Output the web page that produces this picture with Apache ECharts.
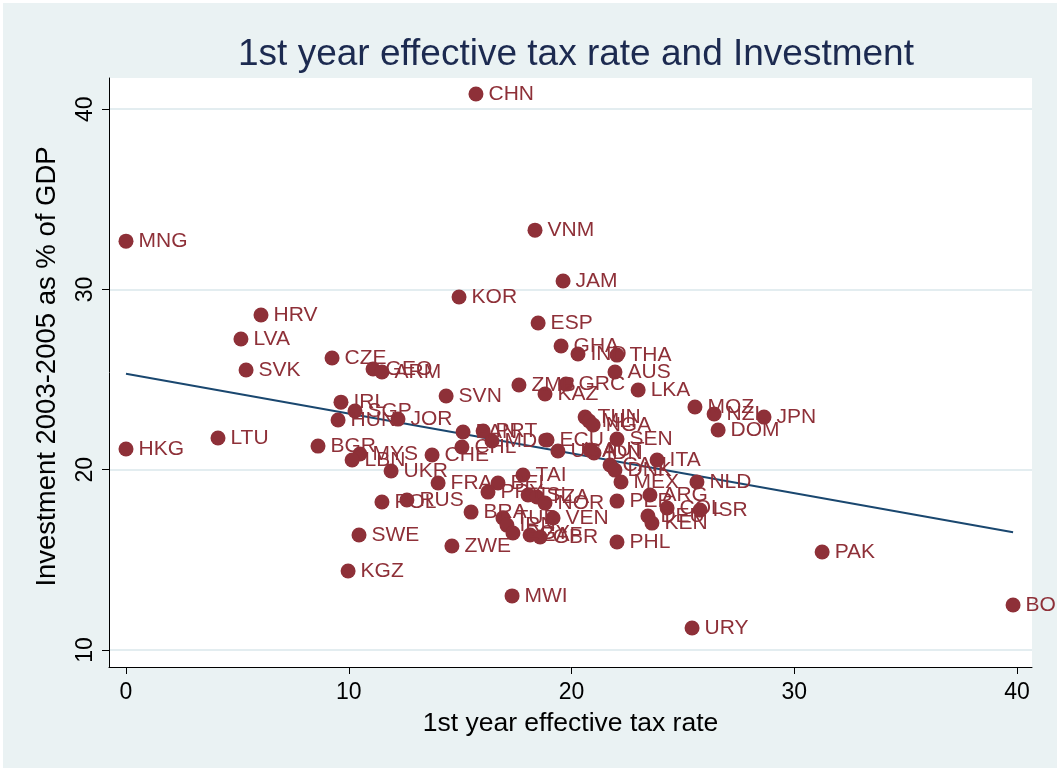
<!DOCTYPE html>
<html>
<head>
<meta charset="utf-8">
<script src="https://cdn.jsdelivr.net/npm/echarts@6/dist/echarts.min.js"></script>
<style>
html,body{margin:0;padding:0;background:#fff;}
#chart{width:1060px;height:771px;}
</style>
</head>
<body>
<div id="chart"></div>
<script>
// ---- data ----
const countries = ["CHN","MNG","VNM","JAM","KOR","HRV","ESP","LVA","GHA","IND","THA","CZE","SVK","GEO","ARM","AUS","ZMB","GRC","KAZ","LKA","SVN","MOZ","IRL","SGP","NZL","JPN","HUN","JOR","TUN","MLI","NGA","DOM","PAN","PRT","SEN","MDG","ECU","HKG","LTU","BGR","CHL","CHE","UGA","AUT","IDN","MYS","LBN","ITA","CAN","DNK","UKR","TAI","MEX","NLD","FRA","BEL","PRY","ISL","TZA","ARG","NOR","POL","RUS","PER","COL","ISR","BRA","VEN","TUR","IRN","EGY","ZAF","GBR","DEU","KEN","PHL","SWE","KGZ","ZWE","MWI","URY","PAK","BOL"];
const taxRate = [15.71,0,18.36,19.62,14.95,6.06,18.50,5.16,19.53,20.29,22.04,9.25,5.39,11.09,11.49,21.95,17.64,19.75,18.81,22.99,14.37,25.54,9.65,10.28,26.40,28.64,9.52,12.21,20.61,20.79,20.97,26.58,15.13,16.03,22.04,16.43,18.90,0,4.13,8.62,15.08,13.74,19.39,20.83,21.01,10.50,10.15,23.84,21.73,21.95,11.90,17.82,22.22,25.63,14.01,16.70,16.25,18.05,18.45,23.52,18.81,11.49,12.61,22.04,24.29,25.77,15.49,19.17,16.92,17.10,17.37,18.14,18.59,23.43,23.61,22.04,10.46,9.97,14.63,17.33,25.41,31.25,39.82];
const investment = [40.84,32.68,33.29,30.47,29.58,28.58,28.14,27.25,26.86,26.42,26.36,26.20,25.53,25.59,25.42,25.42,24.70,24.75,24.20,24.42,24.09,23.48,23.75,23.26,23.09,22.92,22.76,22.81,22.92,22.70,22.48,22.20,22.09,22.15,21.70,21.59,21.65,21.15,21.76,21.31,21.26,20.82,21.04,21.09,20.93,20.87,20.54,20.54,20.26,19.98,19.93,19.71,19.32,19.32,19.26,19.26,18.76,18.60,18.49,18.60,18.15,18.21,18.32,18.26,17.88,17.76,17.65,17.32,17.32,16.93,16.49,16.38,16.27,17.43,17.04,15.99,16.38,14.38,15.77,13.00,11.22,15.44,12.50];
const fitX = [0, 39.82];
const fitY = [25.33, 16.53];
const xTicks = [0, 10, 20, 30, 40];
const yTicks = [10, 20, 30, 40];

const points = countries.map((c, i) => ({ name: c, value: [taxRate[i], investment[i]] }));
const fitLine = fitX.map((x, i) => [x, fitY[i]]);

const FONT = 'Liberation Sans, Arial, sans-serif';
const chart = echarts.init(document.getElementById('chart'), null, { renderer: 'canvas' });
chart.setOption({
  backgroundColor: '#EAF2F3',
  animation: false,
  title: {
    text: '1st year effective tax rate and Investment',
    left: 233,
    top: 31,
    textStyle: { fontFamily: FONT, fontSize: 37, fontWeight: 'normal', color: '#1C2A50' }
  },
  grid: {
    left: 109, top: 78, width: 923, height: 589,
    show: true, backgroundColor: '#ffffff', borderWidth: 0
  },
  xAxis: {
    type: 'value',
    min: -0.763, max: 40.67,
    name: '1st year effective tax rate',
    nameLocation: 'middle',
    nameGap: 43,
    nameTextStyle: { fontFamily: FONT, fontSize: 26.5, color: '#000' },
    axisLine: { show: true, onZero: false, lineStyle: { color: '#000', width: 1 } },
    axisTick: { show: true, length: 7, customValues: xTicks, lineStyle: { color: '#000' } },
    axisLabel: { customValues: xTicks, margin: 14, fontFamily: FONT, fontSize: 23, color: '#000' },
    splitLine: { show: false }
  },
  yAxis: {
    type: 'value',
    min: 9.057, max: 41.73,
    name: 'Investment 2003-2005 as % of GDP',
    nameLocation: 'middle',
    nameGap: 48,
    nameRotate: 90,
    nameTextStyle: { fontFamily: FONT, fontSize: 27.5, color: '#000', padding: [0, 0, 0, 12] },
    axisLine: { show: true, onZero: false, lineStyle: { color: '#000', width: 1 } },
    axisTick: { show: true, length: 7, customValues: yTicks, lineStyle: { color: '#000' } },
    axisLabel: { customValues: yTicks, rotate: 90, margin: 12, fontFamily: FONT, fontSize: 23, color: '#000' },
    splitLine: { show: true, lineStyle: { color: '#E3EDF0', width: 2 } }
  },
  series: [
    {
      type: 'scatter',
      data: points,
      symbol: 'circle',
      symbolSize: 15,
      itemStyle: { color: '#8E3038', opacity: 1 },
      label: {
        show: true,
        position: 'right',
        distance: 5,
        formatter: p => p.name,
        fontFamily: FONT,
        fontSize: 21,
        color: '#8E3038'
      },
      emphasis: { disabled: true },
      z: 3
    },
    {
      type: 'line',
      data: fitLine,
      symbol: 'none',
      lineStyle: { color: '#1A476F', width: 2 },
      emphasis: { disabled: true },
      z: 2
    }
  ],
  graphic: [
    {
      type: 'rect',
      z: 100,
      silent: true,
      shape: { x: 0, y: 0, width: 1060, height: 771 },
      style: { fill: 'none', stroke: '#ffffff', lineWidth: 6 }
    }
  ]
});
</script>
</body>
</html>
